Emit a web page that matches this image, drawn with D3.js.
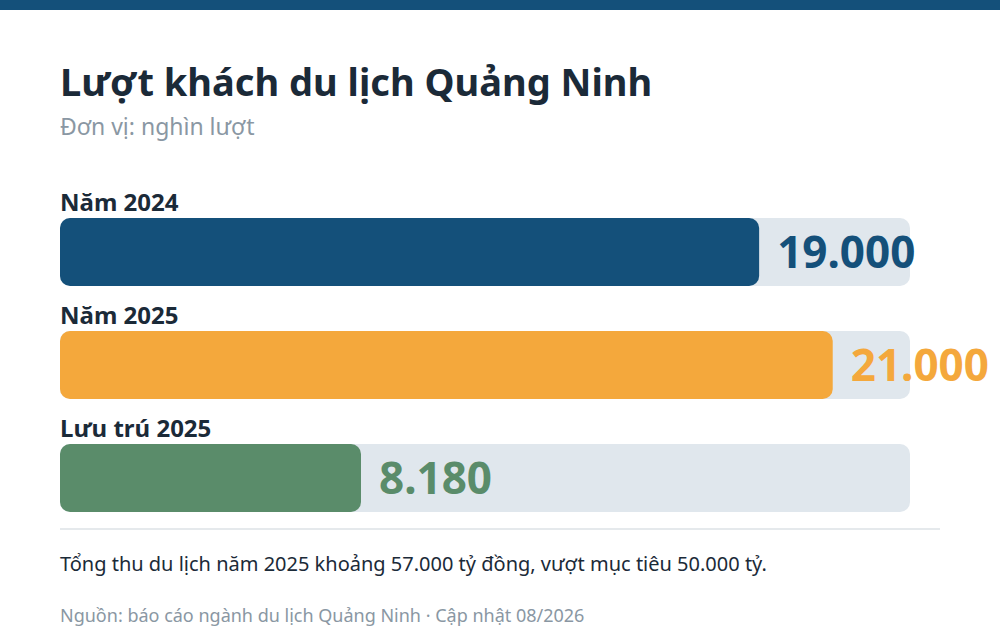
<!DOCTYPE html>
<html><head><meta charset="utf-8">
<script src="https://cdn.jsdelivr.net/npm/d3@7"></script>
<style>body{margin:0;background:#fff;}svg{display:block;font-family:"Noto Sans",sans-serif;}</style>
</head><body><svg id="c" width="1000" height="640"></svg>
<script>
const categories = ["Năm 2024", "Năm 2025", "Lưu trú 2025"];
const values = [19000, 21000, 8180];
const valueLabels = ["19.000", "21.000", "8.180"];
const colors = ["#14507a", "#f4a83c", "#5a8c6a"];

const svg = d3.select("#c");
svg.append("rect").attr("x",0).attr("y",0).attr("width",1000).attr("height",10).attr("fill","#14507a");
svg.append("text").attr("x",60).attr("y",96).attr("font-size",38).attr("font-weight",700).attr("fill","#1b2a38").text("Lượt khách du lịch Quảng Ninh");
svg.append("text").attr("x",60).attr("y",135).attr("font-size",23).attr("fill","#8a97a3").text("Đơn vị: nghìn lượt");

const x = d3.scaleLinear().domain([0, 23100]).range([60, 910]);
const y = d3.scaleBand().domain(categories).range([218, 512]).paddingInner(45/113*0 + 0.40).paddingOuter(0);
// band step 113, height 68
const step = 113, bh = 68;
const yy = i => 218 + i*step;

const g = svg.selectAll("g.row").data(categories).join("g").attr("class","row");
g.append("rect").attr("x",x(0)).attr("y",(d,i)=>yy(i)).attr("width",x(23100)-x(0)).attr("height",bh).attr("rx",10).attr("fill","#e0e7ed");
g.append("rect").attr("x",x(0)).attr("y",(d,i)=>yy(i)).attr("width",(d,i)=>x(values[i])-x(0)).attr("height",bh).attr("rx",10).attr("fill",(d,i)=>colors[i]);
g.append("text").attr("x",60).attr("y",(d,i)=>yy(i)-7).attr("font-size",24).attr("font-weight",700).attr("fill","#1b2a38").text(d=>d);
g.append("text").attr("x",(d,i)=>x(values[i])+18).attr("y",(d,i)=>yy(i)+bh/2+16).attr("font-size",44).attr("font-weight",700).attr("fill",(d,i)=>colors[i]).text((d,i)=>valueLabels[i]);

svg.append("line").attr("x1",60).attr("x2",940).attr("y1",529).attr("y2",529).attr("stroke","#dde2e6").attr("stroke-width",1.5);
svg.append("text").attr("x",60).attr("y",571).attr("font-size",20).attr("fill","#1b2a38").text("Tổng thu du lịch năm 2025 khoảng 57.000 tỷ đồng, vượt mục tiêu 50.000 tỷ.");
svg.append("text").attr("x",60).attr("y",622).attr("font-size",18).attr("fill","#8a97a3").text("Nguồn: báo cáo ngành du lịch Quảng Ninh · Cập nhật 08/2026");
</script></body></html>
